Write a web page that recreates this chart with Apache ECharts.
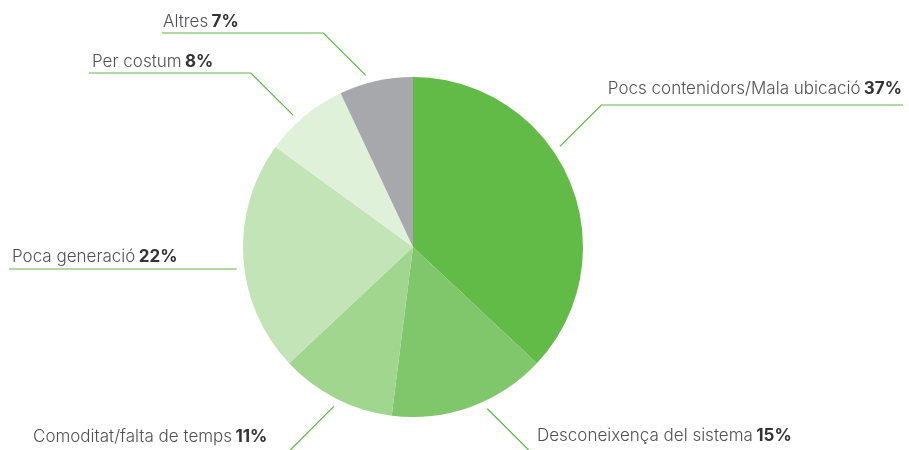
<!DOCTYPE html>
<html>
<head>
<meta charset="utf-8">
<script src="https://cdn.jsdelivr.net/npm/echarts@6/dist/echarts.min.js"></script>
<style>
  html, body { margin: 0; padding: 0; background: #ffffff; }
  #chart { width: 909px; height: 450px; }
</style>
</head>
<body>
<div id="chart"></div>
<script>
// Reasons for not separating waste, share of answers (%)
const categories = [
  'Pocs contenidors/Mala ubicació',
  'Desconeixença del sistema',
  'Comoditat/falta de temps',
  'Poca generació',
  'Per costum',
  'Altres'
];
const shares = [37, 15, 11, 22, 8, 7];
const sliceColors = ['#62bb46', '#80c66b', '#a1d68e', '#c2e4b6', '#e0f1d9', '#a7a8ab'];

// Pie geometry (pixels)
const PIE_CX = 413, PIE_CY = 247, PIE_R = 170, LEADER_GAP = 8;
const LINE_COLOR = '#5cb843';

// Leader lines: anchor angle (deg, clockwise from 12 o'clock), underline height,
// far end of the underline and where the text sits on it.
const leaders = [
  { angle: 55.6,  lineY: 105, endX: 903, textX: 902, textY: 89,  align: 'right' },
  { angle: 155.3, lineY: 458, endX: 800, textX: 537, textY: 436, align: 'left' },
  { angle: 206.4, lineY: 458, endX: 30,  textX: 33,  textY: 437, align: 'left' },
  { angle: 263,   lineY: 269, endX: 9,   textX: 12,  textY: 257, align: 'left' },
  { angle: 317.7, lineY: 73,  endX: 89,  textX: 92,  textY: 62,  align: 'left' },
  { angle: 344.6, lineY: 33,  endX: 162, textX: 163, textY: 22,  align: 'left' }
];

const chart = echarts.init(document.getElementById('chart'), null, { renderer: 'canvas' });

const pieData = categories.map((name, i) => ({
  name: name,
  value: shares[i],
  itemStyle: { color: sliceColors[i] }
}));

chart.setOption({
  backgroundColor: '#ffffff',
  animation: false,
  series: [{
    type: 'pie',
    center: [PIE_CX, PIE_CY],
    radius: PIE_R,
    startAngle: 90,
    clockwise: true,
    avoidLabelOverlap: false,
    emphasis: { disabled: true },
    itemStyle: { borderWidth: 0 },
    data: pieData,
    label: {
      show: true,
      position: 'outside',
      formatter: p => '{n|' + p.name + '} {p|' + p.value + '%}',
      rich: {
        n: { fontFamily: 'Inter', fontSize: 17, fontWeight: 300, color: '#505050' },
        p: { fontFamily: 'Inter', fontSize: 17, fontWeight: 700, color: '#333333' }
      }
    },
    labelLine: {
      show: true,
      lineStyle: { color: LINE_COLOR, width: 1.2 }
    },
    labelLayout: function (params) {
      const L = leaders[params.dataIndex];
      const a = L.angle * Math.PI / 180;
      const r = PIE_R + LEADER_GAP;
      const sx = PIE_CX + r * Math.sin(a);
      const sy = PIE_CY - r * Math.cos(a);
      const dir = L.endX > sx ? 1 : -1;
      const ex = sx + dir * Math.abs(sy - L.lineY);
      return {
        x: L.textX,
        y: L.textY,
        align: L.align,
        verticalAlign: 'middle',
        hideOverlap: false,
        moveOverlap: null,
        labelLinePoints: [[sx, sy], [ex, L.lineY], [L.endX, L.lineY]]
      };
    }
  }]
});
</script>
</body>
</html>
